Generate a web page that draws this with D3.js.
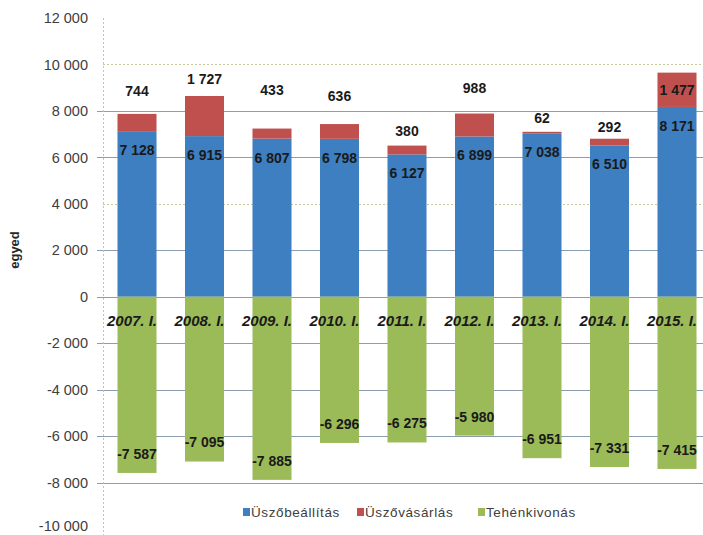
<!DOCTYPE html>
<html>
<head>
<meta charset="utf-8">
<script src="https://cdn.jsdelivr.net/npm/d3@7"></script>
<style>
  html, body { margin: 0; padding: 0; background: #fff; }
  svg { display: block; }
</style>
</head>
<body>
<svg id="chart" width="703" height="535"></svg>
<script>
// ---- data ----
const categories = ["2007. I.", "2008. I.", "2009. I.", "2010. I.", "2011. I.", "2012. I.", "2013. I.", "2014. I.", "2015. I."];
const uszobeallitas = [7128, 6915, 6807, 6798, 6127, 6899, 7038, 6510, 8171];
const uszovasarlas = [744, 1727, 433, 636, 380, 988, 62, 292, 1477];
const tehenkivonas = [-7587, -7095, -7885, -6296, -6275, -5980, -6951, -7331, -7415];
const seriesNames = ["Üszőbeállítás", "Üszővásárlás", "Tehénkivonás"];
const yTicks = [-10000, -8000, -6000, -4000, -2000, 0, 2000, 4000, 6000, 8000, 10000, 12000];

// ---- layout / style (not data) ----
const colors = ["#3d7fc0", "#c0504d", "#9bbb59"];
// manual vertical offsets (px above bar top) of the red labels; null = inside segment
const redLabelOffset = [23, 17, 38, 28, 14, 25, 14, 12, null];

const svg = d3.select("#chart");
const y = d3.scaleLinear().domain([-10000, 12000]).range([529, 18]);
const x = d3.scaleBand().domain(categories).range([103.25, 710.75]).paddingInner(0.422).paddingOuter(0.211);

const fmt = v => {
  const s = Math.abs(v).toString();
  const t = s.length > 3 ? s.slice(0, s.length - 3) + " " + s.slice(-3) : s;
  return (v < 0 ? "-" : "") + t;
};

// gridlines
const dottedTicks = [10000, 4000];
const grid = svg.append("g");
yTicks.filter(t => t > -10000 && t < 12000).forEach(t => {
  const dotted = dottedTicks.includes(t);
  grid.append("line")
    .attr("x1", dotted ? 103 : 97).attr("x2", 703)
    .attr("y1", Math.round(y(t)) + 0.5).attr("y2", Math.round(y(t)) + 0.5)
    .attr("stroke", dotted ? "#c9c79a" : "#8d9db0")
    .attr("stroke-width", 1)
    .attr("stroke-dasharray", dotted ? "2,2" : null);
});
// left dotted axis
svg.append("line")
  .attr("x1", 103.5).attr("x2", 103.5).attr("y1", y(12000)).attr("y2", 535)
  .attr("stroke", "#c9c79a").attr("stroke-dasharray", "2,2");

// y axis labels
const yAxis = d3.axisLeft(y).tickValues(yTicks).tickFormat(fmt).tickSize(0).tickPadding(0);
const ya = svg.append("g").attr("transform", "translate(88,0)").call(yAxis);
ya.select(".domain").remove();
ya.selectAll("text")
  .attr("font-family", "'Liberation Sans', Arial, sans-serif")
  .attr("font-size", 14.5)
  .attr("fill", "#404040")
  .attr("dy", d => d === -10000 ? "0.1em" : "0.32em");

// y axis title
svg.append("text")
  .attr("transform", "translate(19,250) rotate(-90)")
  .attr("text-anchor", "middle")
  .attr("font-family", "'Liberation Sans', Arial, sans-serif")
  .attr("font-weight", "bold")
  .attr("font-size", 13)
  .attr("fill", "#262626")
  .text("egyed");

// bars
const bars = svg.append("g");
categories.forEach((c, i) => {
  const x0 = x(c), w = x.bandwidth();
  const b = uszobeallitas[i], r = uszovasarlas[i], g = tehenkivonas[i];
  bars.append("rect").attr("x", x0).attr("width", w)
    .attr("y", y(b)).attr("height", y(0) - y(b)).attr("fill", colors[0]);
  bars.append("rect").attr("x", x0).attr("width", w)
    .attr("y", y(b + r)).attr("height", y(b) - y(b + r)).attr("fill", colors[1]);
  bars.append("rect").attr("x", x0).attr("width", w)
    .attr("y", y(0)).attr("height", y(g) - y(0)).attr("fill", colors[2]);
});

// x labels
svg.append("g").selectAll("text").data(categories).join("text")
  .attr("x", d => x(d) + x.bandwidth() / 2 - 5)
  .attr("y", 326)
  .attr("text-anchor", "middle")
  .attr("font-family", "'Liberation Sans', Arial, sans-serif")
  .attr("font-weight", "bold")
  .attr("font-style", "italic")
  .attr("font-size", 15)
  .attr("fill", "#1a1a1a")
  .text(d => d);

// data labels
const lab = svg.append("g")
  .attr("font-family", "'Liberation Sans', Arial, sans-serif")
  .attr("font-weight", "bold")
  .attr("font-size", 14)
  .attr("fill", "#1a1a1a")
  .attr("text-anchor", "middle");
categories.forEach((c, i) => {
  const cx = x(c) + x.bandwidth() / 2;
  const b = uszobeallitas[i], r = uszovasarlas[i], g = tehenkivonas[i];
  lab.append("text").attr("x", cx).attr("y", y(b) + 19).attr("dy", "0.35em").text(fmt(b));
  const off = redLabelOffset[i];
  const ry = off === null ? (y(b) + y(b + r)) / 2 : y(b + r) - off;
  lab.append("text").attr("x", cx).attr("y", ry).attr("dy", "0.35em").text(fmt(r));
  lab.append("text").attr("x", cx).attr("y", y(g) - 19).attr("dy", "0.35em").text(fmt(g));
});

// legend
const legendX = [243, 357, 478];
const lg = svg.append("g");
seriesNames.forEach((n, i) => {
  lg.append("rect").attr("x", legendX[i]).attr("y", 508).attr("width", 7).attr("height", 8).attr("fill", colors[i]);
  lg.append("text").attr("x", legendX[i] + 8).attr("y", 517)
    .attr("font-family", "'Liberation Sans', Arial, sans-serif")
    .attr("font-size", 13.5)
    .attr("letter-spacing", 0.6)
    .attr("fill", "#404040")
    .text(n);
});
</script>
</body>
</html>
